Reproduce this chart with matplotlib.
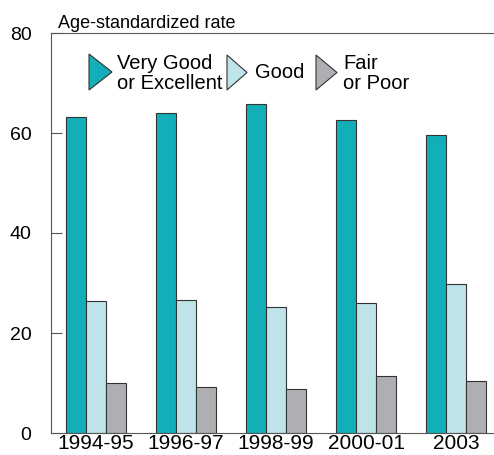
import matplotlib
matplotlib.use("Agg")
import matplotlib.pyplot as plt
import numpy as np
from matplotlib.patches import Polygon

plt.rcParams['font.family'] = ['Liberation Sans', 'DejaVu Sans']

periods = ["1994-95", "1996-97", "1998-99", "2000-01", "2003"]
series_names = ["Very Good\nor Excellent", "Good", "Fair\nor Poor"]
very_good = [63.3, 64.0, 65.9, 62.6, 59.6]
good = [26.4, 26.6, 25.3, 26.1, 29.8]
fair_poor = [10.1, 9.2, 8.8, 11.4, 10.5]
colors = ["#13afb8", "#bee3e8", "#aeafb3"]
yticks = [0, 20, 40, 60, 80]

fig = plt.figure(figsize=(4.94, 4.55), dpi=100)
ax = fig.add_axes([51/494, 1-433/455, 1-51/494, 400/455])

x = np.arange(len(periods))
w = 0.222
for i, vals in enumerate([very_good, good, fair_poor]):
    ax.bar(x + (i-1)*w, vals, width=w, color=colors[i], edgecolor="#333333", linewidth=0.8)

ax.set_xlim(-0.5, 4.42)
ax.set_ylim(0, 80)
ax.set_yticks(yticks)
ax.set_xticks(x)
ax.set_xticklabels(periods, fontsize=15)
ax.tick_params(axis='y', direction='in', length=8, labelsize=14, pad=14, color="#555555")
ax.tick_params(axis='x', length=0, pad=1)
for s in ['left', 'top', 'bottom']:
    ax.spines[s].set_color("#555555")
    ax.spines[s].set_linewidth(0.8)
ax.spines['right'].set_visible(False)

def axc(px, py):
    return ((px - 51) / 443, (433 - py) / 400)

ax.text(*axc(58, 28), "Age-standardized rate", transform=ax.transAxes, fontsize=13, ha='left', va='baseline')

# legend, drawn manually
tri_boxes = [(89, 112, 54, 90), (227, 247, 55, 90), (316, 337, 55, 90)]
text_pos = [(117, 73.5), (255, 73), (343, 73.5)]
for c, (x0, x1, y0, y1), name, (tx, ty) in zip(colors, tri_boxes, series_names, text_pos):
    verts = [axc(x0, y0), axc(x1, (y0 + y1) / 2), axc(x0, y1)]
    ax.add_patch(Polygon(verts, closed=True, transform=ax.transAxes, facecolor=c,
                         edgecolor="#333333", linewidth=0.8, clip_on=False))
    ax.text(*axc(tx, ty), name, transform=ax.transAxes, fontsize=14.5, ha='left', va='center',
            linespacing=1.1)

fig.savefig("out.png", dpi=100)
